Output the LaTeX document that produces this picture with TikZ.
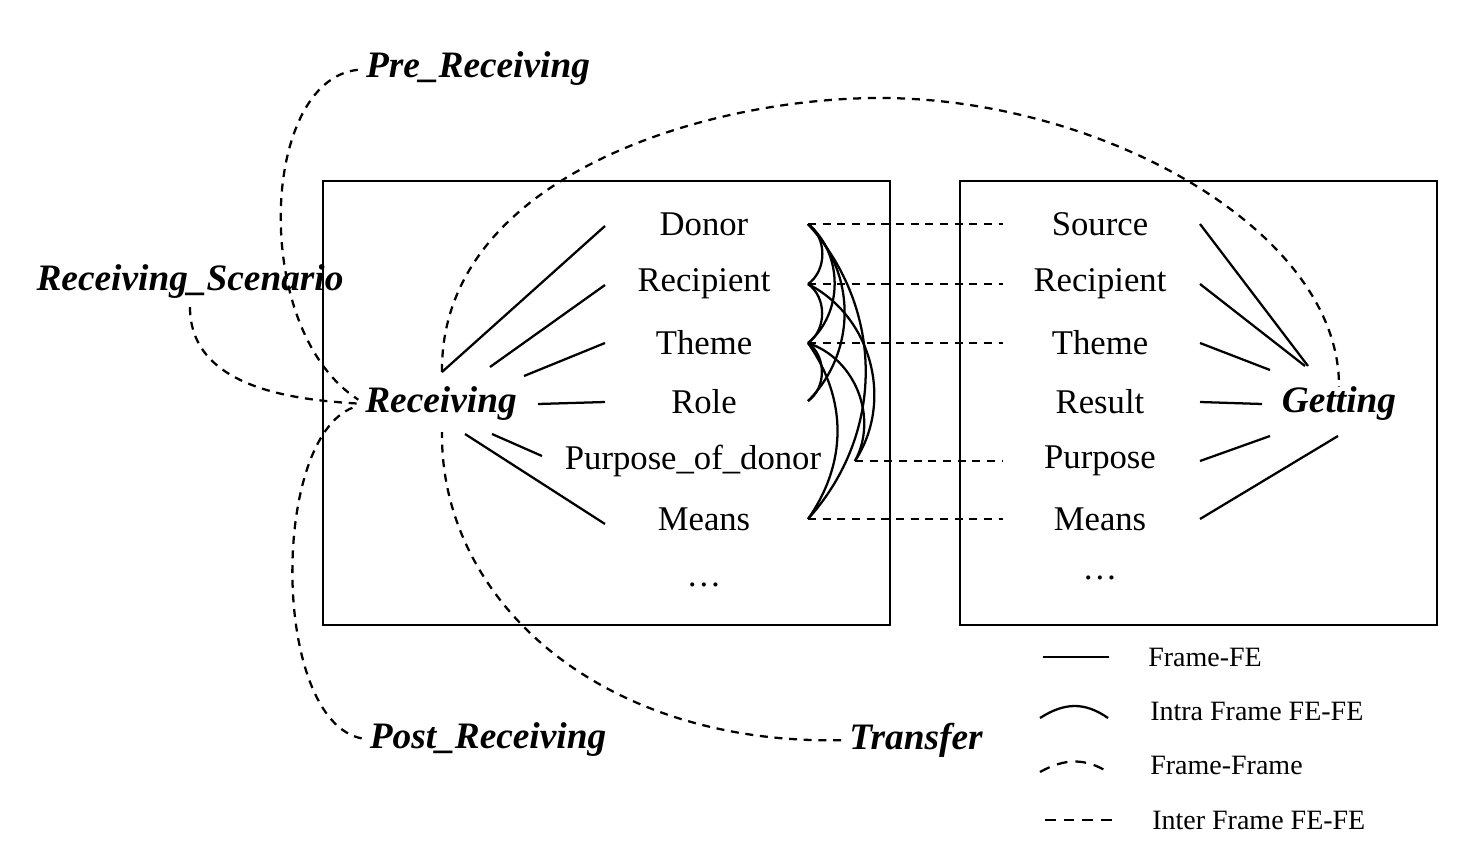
\documentclass[tikz,border=0pt]{standalone}
\usepackage{fontspec}
\setmainfont{Liberation Serif}
\begin{document}
\begin{tikzpicture}[x=0.75pt,y=-0.75pt,
  fe/.style={font=\fontsize{26}{30}\selectfont,inner sep=0pt},
  fr/.style={font=\fontsize{28}{32}\selectfont\bfseries\itshape,inner sep=0pt},
  lg/.style={font=\fontsize{21}{25}\selectfont,inner sep=0pt,anchor=west},
  ff/.style={line width=1.7pt},
  dd/.style={line width=1.7pt,dash pattern=on 6pt off 5pt},
  box/.style={line width=1.7pt}]
\useasboundingbox (0,0) rectangle (1464,849);
\draw[box] (323,181) rectangle (890,625);
\draw[box] (960,181) rectangle (1437,625);
% frames
\node[fr] (rec) at (441,404) {Receiving};
\node[fr] (get) at (1339,404) {Getting};
\node[fr] (pre) at (478,69) {Pre\_Receiving};
\node[fr] (scen) at (190,282) {Receiving\_Scenario};
\node[fr] (post) at (488,740) {Post\_Receiving};
\node[fr] (tr) at (916,740) {Transfer};
% FEs left
\node[fe] (d) at (704,224) {Donor};
\node[fe] (r) at (704,284) {Recipient};
\node[fe] (t) at (704,343) {Theme};
\node[fe] (ro) at (704,402) {Role};
\node[fe] (p) at (693,461) {Purpose\_of\_donor};
\node[fe] (m) at (704,519) {Means};
\node[fe] (e1) at (704,585) {\dots};
% FEs right
\node[fe] (s2) at (1100,224) {Source};
\node[fe] (r2) at (1100,284) {Recipient};
\node[fe] (t2) at (1100,343) {Theme};
\node[fe] (re2) at (1100,402) {Result};
\node[fe] (p2) at (1100,461) {Purpose};
\node[fe] (m2) at (1100,519) {Means};
\node[fe] (e2) at (1100,578) {\dots};
% coordinates
\coordinate (dE) at (808,224); \coordinate (rE) at (808,284);
\coordinate (tE) at (808,343); \coordinate (roE) at (808,401);
\coordinate (pE) at (855,461); \coordinate (mE) at (808,519);
\coordinate (s2W) at (1003,224); \coordinate (r2W) at (1003,284);
\coordinate (t2W) at (1003,343); \coordinate (p2W) at (1003,461);
\coordinate (m2W) at (1003,519);
% frame-FE left
\draw[ff] (442,372) -- (605,226);
\draw[ff] (490,367) -- (605,285);
\draw[ff] (524,376) -- (605,343);
\draw[ff] (538,404) -- (605,402);
\draw[ff] (492,434) -- (542,456);
\draw[ff] (465,434) -- (605,524);
% frame-FE right
\draw[ff] (1200,224) -- (1308,366);
\draw[ff] (1200,284) -- (1305,366);
\draw[ff] (1200,343) -- (1270,370);
\draw[ff] (1200,402) -- (1262,404);
\draw[ff] (1200,461) -- (1270,436);
\draw[ff] (1200,519) -- (1338,436);
% intra arcs
\draw[ff] (dE) to[bend left=55] (rE);
\draw[ff] (dE) to[bend left=50] (tE);
\draw[ff] (dE) to[bend left=45] (roE);
\draw[ff] (dE) to[bend left=42] (mE);
\draw[ff] (rE) to[bend left=55] (tE);
\draw[ff] (rE) to[bend left=48] (pE);
\draw[ff] (tE) to[bend left=55] (roE);
\draw[ff] (tE) to[bend left=50] (pE);
\draw[ff] (tE) to[bend left=35] (mE);
% inter FE
\draw[dd] (dE) -- (s2W);
\draw[dd] (rE) -- (r2W);
\draw[dd] (tE) -- (t2W);
\draw[dd] (pE) -- (p2W);
\draw[dd] (mE) -- (m2W);
% frame-frame
\draw[dd,shorten <=6pt,shorten >=6pt] (pre.west) .. controls (260,80) and (250,330) .. (rec.west);
\draw[dd,shorten <=6pt,shorten >=6pt] (scen.south) .. controls (190,390) and (300,400) .. (rec.west);
\draw[dd,shorten <=6pt,shorten >=6pt] (post.west) .. controls (270,720) and (270,430) .. (rec.west);
\draw[dd,shorten <=6pt] (tr.west) .. controls (600,745) and (440,600) .. (442,432);
\draw[dd] (442,372) .. controls (440,180) and (700,98) .. (880,98)
      .. controls (1100,98) and (1340,230) .. (get.north);
% legend
\draw[ff] (1043,657) -- (1109,657);
\draw[ff] (1040,718) .. controls (1065,702) and (1085,702) .. (1108,718);
\draw[dd,dash pattern=on 8pt off 6pt] (1040,772) .. controls (1065,758) and (1085,758) .. (1108,772);
\draw[dd,dash pattern=on 8pt off 6pt] (1045,820) -- (1112,820);
\node[lg] (l1) at (1148,657) {Frame-FE};
\node[lg] (l2) at (1150,711) {Intra Frame FE-FE};
\node[lg] (l3) at (1150,765) {Frame-Frame};
\node[lg] (l4) at (1152,820) {Inter Frame FE-FE};
\end{tikzpicture}
\end{document}
